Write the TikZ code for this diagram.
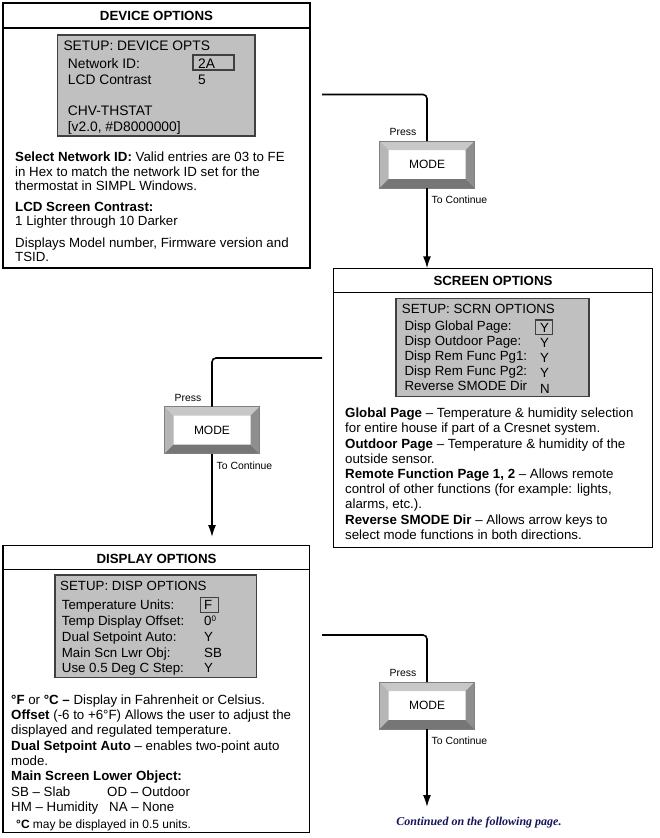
\documentclass[tikz,border=0pt]{standalone}
\usepackage{fontspec}
\setmainfont{Liberation Sans}
\newfontfamily\serifbi{Liberation Serif}
\usetikzlibrary{arrows.meta}
\definecolor{lcdgray}{HTML}{C0C0C0}
\definecolor{lcdedge}{HTML}{404040}
\definecolor{bevtop}{HTML}{C8C8C8}
\definecolor{bevleft}{HTML}{B6B6B6}
\definecolor{bevright}{HTML}{8E8E8E}
\definecolor{bevbot}{HTML}{767676}
\definecolor{navy}{HTML}{14145A}
\tikzset{
  panel/.style={draw=black, line width=1.2pt, inner sep=0, outer sep=0, anchor=north west},
  hdr/.style={font=\bfseries\fontsize{13.3}{15}\selectfont, anchor=base, inner sep=0},
  lcd/.style={draw=lcdedge, fill=lcdgray, line width=1.3pt, inner sep=0, outer sep=0, anchor=north west},
  lcdtxt/.style={font=\fontsize{13.3}{16}\selectfont, anchor=base west, inner sep=0},
  devtxtst/.style={font=\fontsize{13.8}{16}\selectfont, anchor=base west, inner sep=0},
  valbox/.style={draw=lcdedge, line width=1.3pt, inner sep=0, outer sep=0, anchor=north west},
  body/.style={align=left, anchor=north west, inner sep=0},
  small/.style={font=\fontsize{10.4}{12}\selectfont, inner sep=0},
  conn/.style={line width=1.6pt, rounded corners=4pt},
  arr/.style={line width=1.6pt, -{Latex[length=12pt,width=8pt]}},
  modebtn/.style={minimum width=95pt, minimum height=47pt, inner sep=0, outer sep=0,
    fill=white, draw=gray, line width=0.6pt, font=\fontsize{12}{14}\selectfont,
    path picture={
      \fill[bevtop] (path picture bounding box.north west) -- (path picture bounding box.north east)
        -- ([xshift=-9pt,yshift=-9pt]path picture bounding box.north east)
        -- ([xshift=9pt,yshift=-9pt]path picture bounding box.north west) -- cycle;
      \fill[bevleft] (path picture bounding box.north west)
        -- ([xshift=9pt,yshift=-9pt]path picture bounding box.north west)
        -- ([xshift=9pt,yshift=9pt]path picture bounding box.south west)
        -- (path picture bounding box.south west) -- cycle;
      \fill[bevright] (path picture bounding box.north east)
        -- ([xshift=-9pt,yshift=-9pt]path picture bounding box.north east)
        -- ([xshift=-9pt,yshift=9pt]path picture bounding box.south east)
        -- (path picture bounding box.south east) -- cycle;
      \fill[bevbot] (path picture bounding box.south west)
        -- ([xshift=9pt,yshift=9pt]path picture bounding box.south west)
        -- ([xshift=-9pt,yshift=9pt]path picture bounding box.south east)
        -- (path picture bounding box.south east) -- cycle;
    }},
}
\begin{document}
\begin{tikzpicture}[x=1pt,y=-1pt]
\useasboundingbox (0,0) rectangle (659,838);

% ---------------- DEVICE OPTIONS ----------------
\node[panel, minimum width=307pt, minimum height=265pt] (dev) at (3,3) {};
\draw[line width=1.2pt] ([yshift=-25pt]dev.north west) -- ([yshift=-25pt]dev.north east);
\node[hdr] (devh) at (156.5,20.8) {DEVICE OPTIONS};
\node[lcd, minimum width=197.5pt, minimum height=101pt] (devlcd) at (57.5,35) {};
\node[valbox, minimum width=41pt, minimum height=15pt] (devbox) at (193,55) {};
\node[devtxtst] (d1) at (63.3,50.5) {SETUP: DEVICE OPTS};
\node[devtxtst] (d2) at (67.7,68) {Network ID:};
\node[devtxtst] (d3) at (67.7,84) {LCD Contrast};
\node[devtxtst] (d4) at (67.7,115) {CHV-THSTAT};
\node[devtxtst] (d5) at (67.7,131) {[v2.0, \#D8000000]};
\node[devtxtst] (dv1) at (198,68) {2A};
\node[devtxtst] (dv2) at (198,84) {5};
\node[body, font=\fontsize{13.3}{14.3}\selectfont] (devtxt) at (15,151.5)
 {\rule{0pt}{10pt}\textbf{Select Network ID:} Valid entries are 03 to FE\\
  in Hex to match the network ID set for the\\
  thermostat in SIMPL Windows.\\[7pt]
  \textbf{LCD Screen Contrast:}\\
  1 Lighter through 10 Darker\\[7pt]
  Displays Model number, Firmware version and\\
  TSID.};

% ---------------- SCREEN OPTIONS ----------------
\node[panel, minimum width=319.2pt, minimum height=279.2pt] (scr) at (333.5,268.3) {};
\draw[line width=1.2pt] ([yshift=-24pt]scr.north west) -- ([yshift=-24pt]scr.north east);
\node[hdr] (scrh) at (493,285.8) {SCREEN OPTIONS};
\node[lcd, minimum width=193pt, minimum height=98.4pt] (scrlcd) at (396,298.3) {};
\node[valbox, minimum width=17pt, minimum height=14.7pt] (scrbox) at (535.7,320) {};
\node[lcdtxt] (s1) at (401.7,313) {SETUP:\ SCRN OPTIONS};
\node[lcdtxt] (s2) at (404.3,330.5) {Disp Global Page:};
\node[lcdtxt] (s3) at (404.3,345) {Disp Outdoor Page:};
\node[lcdtxt] (s4) at (404.3,360.5) {Disp Rem Func Pg1:};
\node[lcdtxt] (s5) at (404.3,375.8) {Disp Rem Func Pg2:};
\node[lcdtxt] (s6) at (404.3,390.5) {Reverse SMODE Dir};
\node[lcdtxt] (sv1) at (540,332.5) {Y};
\node[lcdtxt] (sv2) at (540,347.5) {Y};
\node[lcdtxt] (sv3) at (540,362.5) {Y};
\node[lcdtxt] (sv4) at (540,377.5) {Y};
\node[lcdtxt] (sv5) at (540,393) {N};
\node[body, font=\fontsize{13.3}{15.2}\selectfont] (scrtxt) at (345,407.5)
 {\rule{0pt}{10pt}\textbf{Global Page} – Temperature \& humidity selection\\
  for entire house if part of a Cresnet system.\\
  \textbf{Outdoor Page} – Temperature \& humidity of the\\
  outside sensor.\\
  \textbf{Remote Function Page 1, 2} – Allows remote\\
  control of other functions (for example: lights,\\
  alarms, etc.).\\
  \textbf{Reverse SMODE Dir} – Allows arrow keys to\\
  select mode functions in both directions.};

% ---------------- DISPLAY OPTIONS ----------------
\node[panel, minimum width=306.5pt, minimum height=287.2pt] (disp) at (3,545.5) {};
\draw[line width=1.2pt] ([yshift=-24pt]disp.north west) -- ([yshift=-24pt]disp.north east);
\node[hdr] (disph) at (156.5,563) {DISPLAY OPTIONS};
\node[lcd, minimum width=201.7pt, minimum height=102.7pt] (displcd) at (55,575) {};
\node[valbox, minimum width=17.6pt, minimum height=15pt] (dispbox) at (200.7,597.3) {};
\node[lcdtxt] (p1) at (60,590.5) {SETUP: DISP OPTIONS};
\node[lcdtxt] (p2) at (61.7,609) {Temperature Units:};
\node[lcdtxt] (p3) at (61.7,625) {Temp Display Offset:};
\node[lcdtxt] (p4) at (61.7,641.5) {Dual Setpoint Auto:};
\node[lcdtxt] (p5) at (61.7,657) {Main Scn Lwr Obj:};
\node[lcdtxt] (p6) at (61.7,672.5) {Use 0.5 Deg C Step:};
\node[lcdtxt] (pv1) at (204,609) {F};
\node[lcdtxt] (pv2) at (204,625) {0\raisebox{3.8pt}{\fontsize{8}{8}\selectfont 0}};
\node[lcdtxt] (pv3) at (204,641.5) {Y};
\node[lcdtxt] (pv4) at (204,657) {SB};
\node[lcdtxt] (pv5) at (204,672.5) {Y};
\node[body, font=\fontsize{13.3}{15.3}\selectfont] (disptxt) at (11,694)
 {\rule{0pt}{10pt}\textbf{°F} or \textbf{°C –} Display in Fahrenheit or Celsius.\\
  \textbf{Offset} (-6 to +6°F) Allows the user to adjust the\\
  displayed and regulated temperature.\\
  \textbf{Dual Setpoint Auto} – enables two-point auto\\
  mode.\\
  \textbf{Main Screen Lower Object:}\\
  \makebox[96pt][l]{SB – Slab}OD – Outdoor\\
  \makebox[98pt][l]{HM – Humidity}NA – None};
\node[font=\fontsize{12}{14}\selectfont, anchor=base west, inner sep=0] (dispnote) at (16,828.5)
 {\textbf{°C} may be displayed in 0.5 units.};

% ---------------- MODE buttons and connectors ----------------
\node[modebtn] (b1) at (427,164.5) {MODE};
\node[modebtn] (b2) at (212,430) {MODE};
\node[modebtn] (b3) at (427,705.5) {MODE};

\coordinate (c1) at (322,94.5);
\coordinate (c2) at (322,358);
\coordinate (c3) at (322,635);
\coordinate (e2) at (212,537);
\coordinate (e3) at (427,807);

\draw[conn] (c1) -| (b1.north);
\draw[arr] (b1.south) -- (b1.south |- scr.north);
\draw[conn] (c2) -| (b2.north);
\draw[arr] (b2.south) -- (b2.south |- e2);
\draw[conn] (c3) -| (b3.north);
\draw[arr] (b3.south) -- (b3.south |- e3);

\node[small, anchor=base east] (pr1) at ([xshift=-10.5pt,yshift=5.5pt]b1.north) {Press};
\node[small, anchor=base west] (tc1) at ([xshift=4.5pt,yshift=-15.5pt]b1.south) {To Continue};
\node[small, anchor=base east] (pr2) at ([xshift=-10.5pt,yshift=5.5pt]b2.north) {Press};
\node[small, anchor=base west] (tc2) at ([xshift=4.5pt,yshift=-15.5pt]b2.south) {To Continue};
\node[small, anchor=base east] (pr3) at ([xshift=-10.5pt,yshift=5.5pt]b3.north) {Press};
\node[small, anchor=base west] (tc3) at ([xshift=4.5pt,yshift=-15.5pt]b3.south) {To Continue};

\node[font=\serifbi\bfseries\itshape\fontsize{12}{14}\selectfont, text=navy, anchor=base, inner sep=0] (cont)
  at (479,825) {Continued on the following page.};
\end{tikzpicture}
\end{document}
